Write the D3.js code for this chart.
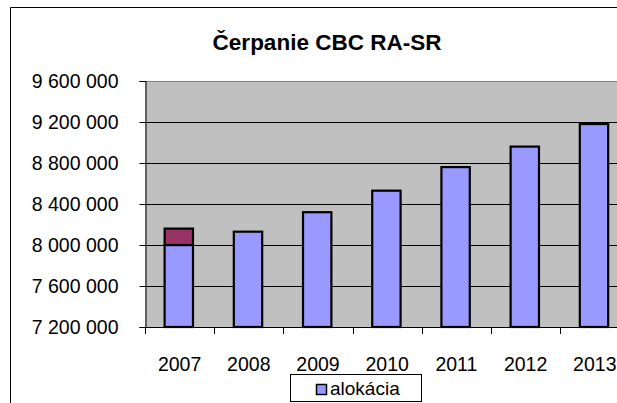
<!DOCTYPE html>
<html><head><meta charset="utf-8">
<script src="https://cdn.jsdelivr.net/npm/d3@7"></script>
<style>html,body{margin:0;padding:0;background:#fff;overflow:hidden}svg{display:block}</style>
</head><body>
<svg id="c" width="617" height="403"></svg>
<script>
const years = ["2007","2008","2009","2010","2011","2012","2013"];
const alokacia = [8000000, 8130000, 8320000, 8530000, 8760000, 8960000, 9180000];
const cerpanieNad = [160000, 0, 0, 0, 0, 0, 0];
const yTicks = [7200000, 7600000, 8000000, 8400000, 8800000, 9200000, 9600000];
const title = "Čerpanie CBC RA-SR";
const legendLabel = "alokácia";

const svg = d3.select("#c");
const font = "'Liberation Sans', Arial, sans-serif";
const L = 145, T = 81, B = 327, step = 69.2;
const R = L + step * years.length;

// outer chart border
svg.append("path").attr("d", `M10.5,403 V7.5 H617`).attr("fill","none").attr("stroke","#000").attr("stroke-width",1);

svg.append("text").attr("x", 327).attr("y", 50).attr("text-anchor","middle")
  .attr("font-family", font).attr("font-weight","bold").attr("font-size", 22.5).attr("fill","#000").text(title);

const x = d3.scaleBand().domain(years).range([L, R]).padding(0);
const y = d3.scaleLinear().domain([7200000, 9600000]).range([B, T]);

svg.append("rect").attr("x", L).attr("y", T).attr("width", R - L).attr("height", B - T).attr("fill", "#C0C0C0");
svg.append("line").attr("x1", L).attr("x2", R).attr("y1", T + 0.5).attr("y2", T + 0.5).attr("stroke", "#808080");

// gridlines
svg.append("g").selectAll("line").data(yTicks.slice(1, -1)).join("line")
  .attr("x1", L).attr("x2", R).attr("y1", d => Math.round(y(d)) + 0.5).attr("y2", d => Math.round(y(d)) + 0.5)
  .attr("stroke", "#000").attr("stroke-width", 1);

// bars
const bw = x.bandwidth() * 0.41;
const g = svg.append("g");
years.forEach((yr, i) => {
  const cx = x(yr) + x.bandwidth() / 2 - 0.8;
  g.append("rect").attr("x", cx - bw / 2).attr("width", bw)
    .attr("y", y(alokacia[i])).attr("height", B - y(alokacia[i]))
    .attr("fill", "#9999FF").attr("stroke", "#000").attr("stroke-width", 2.2);
  if (cerpanieNad[i] > 0) {
    const top = alokacia[i] + cerpanieNad[i];
    g.append("rect").attr("x", cx - bw / 2).attr("width", bw)
      .attr("y", y(top)).attr("height", y(alokacia[i]) - y(top))
      .attr("fill", "#993366").attr("stroke", "#000").attr("stroke-width", 2.2);
  }
});

// y axis
const yAxis = d3.axisLeft(y).tickValues(yTicks).tickSize(6).tickPadding(21)
  .tickFormat(d => d3.format(",")(d).replace(/,/g, " "));
const ya = svg.append("g").attr("transform", `translate(${L + 0.5},0)`).call(yAxis);
ya.select(".domain").attr("stroke", "#000");
ya.selectAll(".tick line").attr("stroke", "#000");
ya.selectAll("text").attr("font-family", font).attr("font-size", 19.5).attr("fill", "#000");

// x axis
svg.append("line").attr("x1", L).attr("x2", R).attr("y1", B + 0.5).attr("y2", B + 0.5).attr("stroke", "#000");
svg.append("g").selectAll("line").data(years).join("line")
  .attr("x1", d => Math.round(x(d)) + 0.5).attr("x2", d => Math.round(x(d)) + 0.5)
  .attr("y1", B).attr("y2", B + 7).attr("stroke", "#000");
svg.append("g").selectAll("text").data(years).join("text")
  .attr("x", d => x(d) + x.bandwidth() / 2).attr("y", 371).attr("text-anchor", "middle")
  .attr("font-family", font).attr("font-size", 19.5).attr("fill", "#000").text(d => d);

// legend
const lg = svg.append("g");
lg.append("rect").attr("x", 290.5).attr("y", 374.5).attr("width", 131).attr("height", 27)
  .attr("fill", "#fff").attr("stroke", "#000");
lg.append("rect").attr("x", 316.5).attr("y", 384.5).attr("width", 10).attr("height", 10)
  .attr("fill", "#9999FF").attr("stroke", "#000").attr("stroke-width", 1.5);
lg.append("text").attr("x", 330).attr("y", 394.5).attr("font-family", font).attr("font-size", 19)
  .attr("fill", "#000").text(legendLabel);
</script>
</body></html>
